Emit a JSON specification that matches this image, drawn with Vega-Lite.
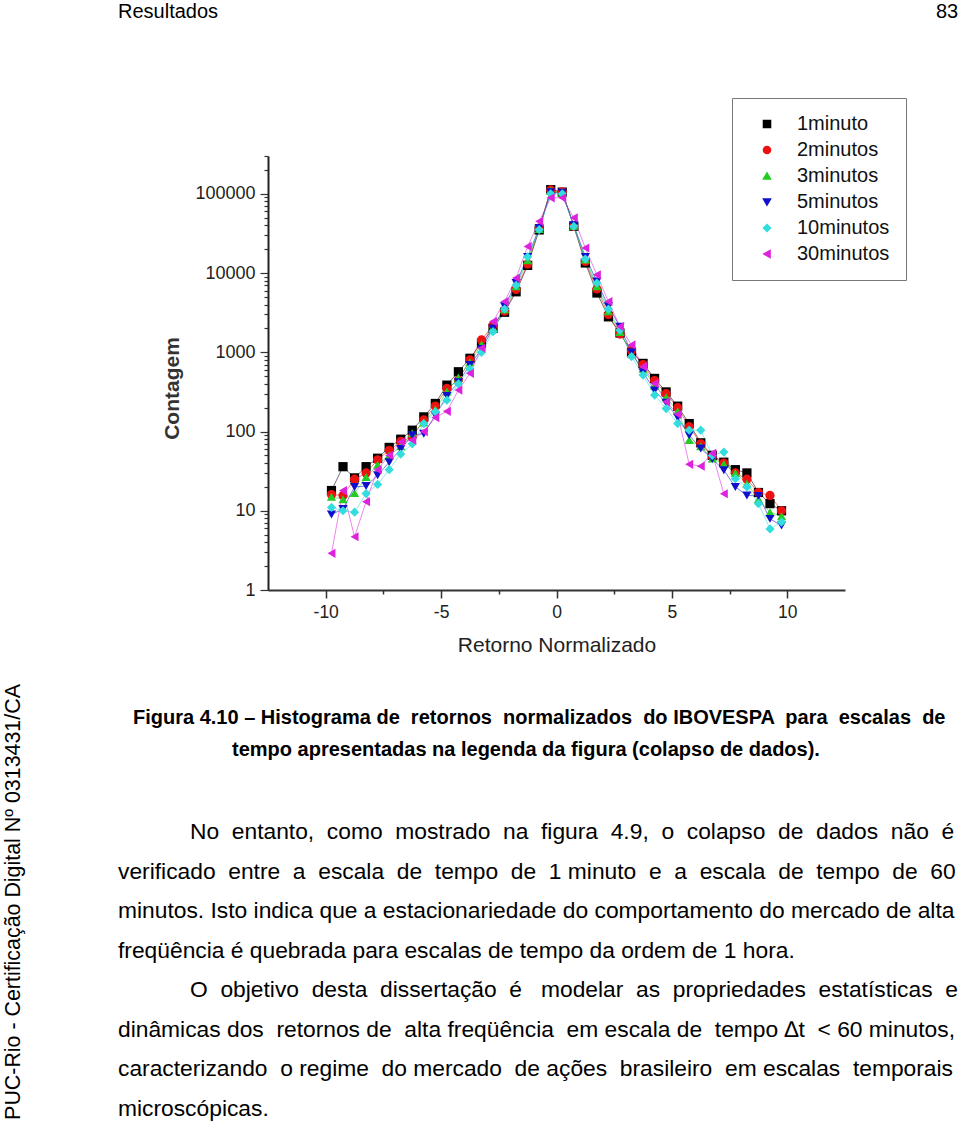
{
  "$schema": "https://vega.github.io/schema/vega-lite/v6.json",
  "width": 577,
  "height": 434,
  "autosize": {"type": "none"},
  "padding": {"left": 268, "top": 156, "right": 115, "bottom": 538},
  "background": "white",
  "config": {
    "view": {"stroke": null},
    "font": "Liberation Sans",
    "text": {"font": "Liberation Sans", "color": "#000000"}
  },
  "resolve": {"scale": {"x": "independent", "y": "independent"}},
  "layer": [
    {
      "data": {
        "values": [
          {"s":"1minuto","x":-9.75,"c":18},{"s":"1minuto","x":-9.25,"c":36},{"s":"1minuto","x":-8.75,"c":26},{"s":"1minuto","x":-8.25,"c":36},{"s":"1minuto","x":-7.75,"c":46},{"s":"1minuto","x":-7.25,"c":63},{"s":"1minuto","x":-6.75,"c":80},{"s":"1minuto","x":-6.25,"c":104},{"s":"1minuto","x":-5.75,"c":153},{"s":"1minuto","x":-5.25,"c":226},{"s":"1minuto","x":-4.75,"c":385},{"s":"1minuto","x":-4.25,"c":568},{"s":"1minuto","x":-3.75,"c":840},{"s":"1minuto","x":-3.25,"c":1300},{"s":"1minuto","x":-2.75,"c":2000},{"s":"1minuto","x":-2.25,"c":3200},{"s":"1minuto","x":-1.75,"c":5800},{"s":"1minuto","x":-1.25,"c":12500},{"s":"1minuto","x":-0.75,"c":35000},{"s":"1minuto","x":-0.25,"c":113000},
          {"s":"1minuto","x":0.25,"c":105000},{"s":"1minuto","x":0.75,"c":39000},{"s":"1minuto","x":1.25,"c":13400},{"s":"1minuto","x":1.75,"c":5600},{"s":"1minuto","x":2.25,"c":2800},{"s":"1minuto","x":2.75,"c":1750},{"s":"1minuto","x":3.25,"c":1000},{"s":"1minuto","x":3.75,"c":724},{"s":"1minuto","x":4.25,"c":468},{"s":"1minuto","x":4.75,"c":316},{"s":"1minuto","x":5.25,"c":209},{"s":"1minuto","x":5.75,"c":126},{"s":"1minuto","x":6.25,"c":72},{"s":"1minuto","x":6.75,"c":50},{"s":"1minuto","x":7.25,"c":41},{"s":"1minuto","x":7.75,"c":33},{"s":"1minuto","x":8.25,"c":30},{"s":"1minuto","x":8.75,"c":17},{"s":"1minuto","x":9.25,"c":12.3},{"s":"1minuto","x":9.75,"c":10},

          {"s":"2minutos","x":-9.75,"c":16},{"s":"2minutos","x":-9.25,"c":15.6},{"s":"2minutos","x":-8.75,"c":25},{"s":"2minutos","x":-8.25,"c":30},{"s":"2minutos","x":-7.75,"c":44},{"s":"2minutos","x":-7.25,"c":58},{"s":"2minutos","x":-6.75,"c":75},{"s":"2minutos","x":-6.25,"c":85},{"s":"2minutos","x":-5.75,"c":140},{"s":"2minutos","x":-5.25,"c":210},{"s":"2minutos","x":-4.75,"c":350},{"s":"2minutos","x":-4.25,"c":446},{"s":"2minutos","x":-3.75,"c":800},{"s":"2minutos","x":-3.25,"c":1430},{"s":"2minutos","x":-2.75,"c":2200},{"s":"2minutos","x":-2.25,"c":3300},{"s":"2minutos","x":-1.75,"c":6200},{"s":"2minutos","x":-1.25,"c":13000},{"s":"2minutos","x":-0.75,"c":37000},{"s":"2minutos","x":-0.25,"c":112000},
          {"s":"2minutos","x":0.25,"c":106000},{"s":"2minutos","x":0.75,"c":39000},{"s":"2minutos","x":1.25,"c":14000},{"s":"2minutos","x":1.75,"c":6300},{"s":"2minutos","x":2.25,"c":3000},{"s":"2minutos","x":2.75,"c":1700},{"s":"2minutos","x":3.25,"c":1050},{"s":"2minutos","x":3.75,"c":700},{"s":"2minutos","x":4.25,"c":440},{"s":"2minutos","x":4.75,"c":300},{"s":"2minutos","x":5.25,"c":200},{"s":"2minutos","x":5.75,"c":115},{"s":"2minutos","x":6.25,"c":70},{"s":"2minutos","x":6.75,"c":48},{"s":"2minutos","x":7.25,"c":40},{"s":"2minutos","x":7.75,"c":30},{"s":"2minutos","x":8.25,"c":25},{"s":"2minutos","x":8.75,"c":17},{"s":"2minutos","x":9.25,"c":15.6},{"s":"2minutos","x":9.75,"c":10},

          {"s":"3minutos","x":-9.75,"c":15},{"s":"3minutos","x":-9.25,"c":14},{"s":"3minutos","x":-8.75,"c":16.7},{"s":"3minutos","x":-8.25,"c":26.6},{"s":"3minutos","x":-7.75,"c":38},{"s":"3minutos","x":-7.25,"c":50},{"s":"3minutos","x":-6.75,"c":65},{"s":"3minutos","x":-6.25,"c":95},{"s":"3minutos","x":-5.75,"c":130},{"s":"3minutos","x":-5.25,"c":190},{"s":"3minutos","x":-4.75,"c":320},{"s":"3minutos","x":-4.25,"c":480},{"s":"3minutos","x":-3.75,"c":750},{"s":"3minutos","x":-3.25,"c":1250},{"s":"3minutos","x":-2.75,"c":2050},{"s":"3minutos","x":-2.25,"c":3500},{"s":"3minutos","x":-1.75,"c":6800},{"s":"3minutos","x":-1.25,"c":14500},{"s":"3minutos","x":-0.75,"c":36000},{"s":"3minutos","x":-0.25,"c":110000},
          {"s":"3minutos","x":0.25,"c":104000},{"s":"3minutos","x":0.75,"c":39500},{"s":"3minutos","x":1.25,"c":14800},{"s":"3minutos","x":1.75,"c":6800},{"s":"3minutos","x":2.25,"c":3300},{"s":"3minutos","x":2.75,"c":1800},{"s":"3minutos","x":3.25,"c":950},{"s":"3minutos","x":3.75,"c":620},{"s":"3minutos","x":4.25,"c":380},{"s":"3minutos","x":4.75,"c":270},{"s":"3minutos","x":5.25,"c":180},{"s":"3minutos","x":5.75,"c":78},{"s":"3minutos","x":6.25,"c":65},{"s":"3minutos","x":6.75,"c":45.5},{"s":"3minutos","x":7.25,"c":39},{"s":"3minutos","x":7.75,"c":30},{"s":"3minutos","x":8.25,"c":22},{"s":"3minutos","x":8.75,"c":14},{"s":"3minutos","x":9.25,"c":9.6},{"s":"3minutos","x":9.75,"c":8.5},

          {"s":"5minutos","x":-9.75,"c":9},{"s":"5minutos","x":-9.25,"c":10.5},{"s":"5minutos","x":-8.75,"c":20},{"s":"5minutos","x":-8.25,"c":20.5},{"s":"5minutos","x":-7.75,"c":28},{"s":"5minutos","x":-7.25,"c":41},{"s":"5minutos","x":-6.75,"c":60},{"s":"5minutos","x":-6.25,"c":90},{"s":"5minutos","x":-5.75,"c":94},{"s":"5minutos","x":-5.25,"c":160},{"s":"5minutos","x":-4.75,"c":280},{"s":"5minutos","x":-4.25,"c":420},{"s":"5minutos","x":-3.75,"c":690},{"s":"5minutos","x":-3.25,"c":1100},{"s":"5minutos","x":-2.75,"c":2000},{"s":"5minutos","x":-2.25,"c":3800},{"s":"5minutos","x":-1.75,"c":7500},{"s":"5minutos","x":-1.25,"c":16000},{"s":"5minutos","x":-0.75,"c":37000},{"s":"5minutos","x":-0.25,"c":105000},
          {"s":"5minutos","x":0.25,"c":103000},{"s":"5minutos","x":0.75,"c":40000},{"s":"5minutos","x":1.25,"c":16000},{"s":"5minutos","x":1.75,"c":7800},{"s":"5minutos","x":2.25,"c":3800},{"s":"5minutos","x":2.75,"c":2100},{"s":"5minutos","x":3.25,"c":1000},{"s":"5minutos","x":3.75,"c":560},{"s":"5minutos","x":4.25,"c":330},{"s":"5minutos","x":4.75,"c":230},{"s":"5minutos","x":5.25,"c":150},{"s":"5minutos","x":5.75,"c":90},{"s":"5minutos","x":6.25,"c":61},{"s":"5minutos","x":6.75,"c":45},{"s":"5minutos","x":7.25,"c":32.5},{"s":"5minutos","x":7.75,"c":20},{"s":"5minutos","x":8.25,"c":15.6},{"s":"5minutos","x":8.75,"c":15.4},{"s":"5minutos","x":9.25,"c":7.9},{"s":"5minutos","x":9.75,"c":6.5},

          {"s":"10minutos","x":-9.75,"c":11},{"s":"10minutos","x":-9.25,"c":10},{"s":"10minutos","x":-8.75,"c":9.6},{"s":"10minutos","x":-8.25,"c":16.5},{"s":"10minutos","x":-7.75,"c":21.5},{"s":"10minutos","x":-7.25,"c":33},{"s":"10minutos","x":-6.75,"c":52},{"s":"10minutos","x":-6.25,"c":70},{"s":"10minutos","x":-5.75,"c":126},{"s":"10minutos","x":-5.25,"c":177},{"s":"10minutos","x":-4.75,"c":249},{"s":"10minutos","x":-4.25,"c":400},{"s":"10minutos","x":-3.75,"c":620},{"s":"10minutos","x":-3.25,"c":1000},{"s":"10minutos","x":-2.75,"c":1820},{"s":"10minutos","x":-2.25,"c":3500},{"s":"10minutos","x":-1.75,"c":7000},{"s":"10minutos","x":-1.25,"c":16000},{"s":"10minutos","x":-0.75,"c":35300},{"s":"10minutos","x":-0.25,"c":100000},
          {"s":"10minutos","x":0.25,"c":100000},{"s":"10minutos","x":0.75,"c":38900},{"s":"10minutos","x":1.25,"c":15000},{"s":"10minutos","x":1.75,"c":7470},{"s":"10minutos","x":2.25,"c":3500},{"s":"10minutos","x":2.75,"c":1900},{"s":"10minutos","x":3.25,"c":880},{"s":"10minutos","x":3.75,"c":516},{"s":"10minutos","x":4.25,"c":288},{"s":"10minutos","x":4.75,"c":195},{"s":"10minutos","x":5.25,"c":126},{"s":"10minutos","x":5.75,"c":104},{"s":"10minutos","x":6.25,"c":104},{"s":"10minutos","x":6.75,"c":50},{"s":"10minutos","x":7.25,"c":55},{"s":"10minutos","x":7.75,"c":25.4},{"s":"10minutos","x":8.25,"c":20},{"s":"10minutos","x":8.75,"c":12.3},{"s":"10minutos","x":9.25,"c":5.9},{"s":"10minutos","x":9.75,"c":7.2},

          {"s":"30minutos","x":-9.75,"c":2.9},{"s":"30minutos","x":-9.25,"c":18},{"s":"30minutos","x":-8.75,"c":4.7},{"s":"30minutos","x":-8.25,"c":13},{"s":"30minutos","x":-7.75,"c":33},{"s":"30minutos","x":-7.25,"c":50},{"s":"30minutos","x":-6.75,"c":74},{"s":"30minutos","x":-6.25,"c":78},{"s":"30minutos","x":-5.75,"c":100},{"s":"30minutos","x":-5.25,"c":150},{"s":"30minutos","x":-4.75,"c":180},{"s":"30minutos","x":-4.25,"c":333},{"s":"30minutos","x":-3.75,"c":542},{"s":"30minutos","x":-3.25,"c":1130},{"s":"30minutos","x":-2.75,"c":2440},{"s":"30minutos","x":-2.25,"c":4370},{"s":"30minutos","x":-1.75,"c":8650},{"s":"30minutos","x":-1.25,"c":21700},{"s":"30minutos","x":-0.75,"c":45000},{"s":"30minutos","x":-0.25,"c":89000},
          {"s":"30minutos","x":0.25,"c":89000},{"s":"30minutos","x":0.75,"c":49700},{"s":"30minutos","x":1.25,"c":20700},{"s":"30minutos","x":1.75,"c":9500},{"s":"30minutos","x":2.25,"c":4370},{"s":"30minutos","x":2.75,"c":2110},{"s":"30minutos","x":3.25,"c":1240},{"s":"30minutos","x":3.75,"c":658},{"s":"30minutos","x":4.25,"c":405},{"s":"30minutos","x":4.75,"c":237},{"s":"30minutos","x":5.25,"c":165},{"s":"30minutos","x":5.75,"c":38.6},{"s":"30minutos","x":6.25,"c":36.5},{"s":"30minutos","x":6.75,"c":53},{"s":"30minutos","x":7.25,"c":16.4}
        ]
      },
      "encoding": {
        "x": {
          "field": "x", "type": "quantitative",
          "scale": {"domain": [-12.5, 12.5], "nice": false, "zero": false},
          "axis": {
            "values": [-10, -7.5, -5, -2.5, 0, 2.5, 5, 7.5, 10],
            "labelExpr": "abs(datum.value % 5) < 0.001 ? toString(datum.value) : ''",
            "grid": false,
            "domainColor": "#333333", "domainWidth": 2,
            "tickColor": "#333333", "tickWidth": 1.5,
            "tickSize": {"condition": {"test": "abs(datum.value % 5) < 0.001", "value": 8}, "value": 4},
            "labelFont": "Liberation Sans", "labelFontSize": 17.5, "labelColor": "#222222", "labelPadding": 5,
            "title": "Retorno Normalizado",
            "titleFont": "Liberation Sans", "titleFontSize": 21, "titleFontWeight": "normal", "titleColor": "#222222", "titlePadding": 14
          }
        },
        "y": {
          "field": "c", "type": "quantitative",
          "scale": {"type": "log", "domain": [1, 300000], "nice": false},
          "axis": {
            "values": [1,2,3,4,5,6,7,8,9,10,20,30,40,50,60,70,80,90,100,200,300,400,500,600,700,800,900,1000,2000,3000,4000,5000,6000,7000,8000,9000,10000,20000,30000,40000,50000,60000,70000,80000,90000,100000,200000,300000],
            "labelExpr": "abs(log(datum.value)/LN10 - round(log(datum.value)/LN10)) < 0.000001 ? toString(datum.value) : ''",
            "grid": false,
            "domainColor": "#222222", "domainWidth": 2,
            "tickColor": "#333333", "tickWidth": 1.2,
            "tickSize": {"condition": {"test": "abs(log(datum.value)/LN10 - round(log(datum.value)/LN10)) < 0.000001", "value": 8}, "value": 4},
            "labelFont": "Liberation Sans", "labelFontSize": 18, "labelColor": "#222222", "labelPadding": 5,
            "title": "Contagem",
            "titleFont": "Liberation Sans", "titleFontSize": 21, "titleFontWeight": "bold", "titleColor": "#333333", "titlePadding": 12,
            "titleY": 232
          }
        },
        "color": {
          "field": "s", "type": "nominal",
          "scale": {
            "domain": ["1minuto", "2minutos", "3minutos", "5minutos", "10minutos", "30minutos"],
            "range": ["#000000", "#ee1111", "#22cc22", "#1010cc", "#33dddd", "#dd22dd"]
          },
          "legend": {
            "title": null, "orient": "none", "legendX": 464, "legendY": -58,
            "strokeColor": "#777777", "fillColor": "#ffffff", "padding": 16,
            "labelFont": "Liberation Sans", "labelFontSize": 20, "labelColor": "#111111",
            "symbolSize": 50, "symbolOpacity": 1, "rowPadding": 6, "labelOffset": 20, "symbolOffset": 9
          }
        }
      },
      "layer": [
        {"mark": {"type": "line", "strokeWidth": 1, "opacity": 0.55}},
        {
          "mark": {"type": "point", "filled": true, "size": 85, "opacity": 1},
          "encoding": {
            "shape": {
              "field": "s", "type": "nominal",
              "scale": {
                "domain": ["1minuto", "2minutos", "3minutos", "5minutos", "10minutos", "30minutos"],
                "range": ["square", "circle", "triangle-up", "triangle-down", "diamond", "triangle-left"]
              },
              "legend": {
                "title": null, "orient": "none", "legendX": 464, "legendY": -58,
                "strokeColor": "#777777", "fillColor": "#ffffff", "padding": 16,
                "labelFont": "Liberation Sans", "labelFontSize": 20, "labelColor": "#111111",
                "symbolSize": 50, "symbolOpacity": 1, "rowPadding": 6, "labelOffset": 20, "symbolOffset": 9
              }
            }
          }
        }
      ]
    },
    {
      "data": {"values": [{"t": "Resultados"}, {"t": "83"}]},
      "mark": {"type": "text", "align": "left", "baseline": "middle", "fontSize": 20, "font": "Liberation Sans", "color": "#000000"},
      "encoding": {
        "x": {"field": "t", "type": "nominal", "scale": {"type": "point", "domain": ["Resultados", "83"], "range": [-150, 668], "padding": 0}, "axis": null},
        "y": {"field": "t", "type": "nominal", "scale": {"type": "point", "domain": ["Resultados", "83"], "range": [-144, -144], "padding": 0}, "axis": null},
        "text": {"field": "t"}
      }
    },
    {
      "data": {"values": [
        {"line": 1, "t": "Figura 4.10 – Histograma de \u00a0retornos \u00a0normalizados \u00a0do IBOVESPA \u00a0para \u00a0escalas \u00a0de"},
        {"line": 2, "t": "tempo apresentadas na legenda da figura (colapso de dados)."}
      ]},
      "mark": {"type": "text", "align": "left", "baseline": "middle", "fontSize": 20, "fontWeight": "bold", "font": "Liberation Sans", "color": "#000000"},
      "encoding": {
        "x": {"field": "line", "type": "ordinal", "scale": {"type": "point", "domain": [1, 2], "range": [-135, -36], "padding": 0}, "axis": null},
        "y": {"field": "line", "type": "quantitative", "scale": {"domain": [1, 2], "range": [562, 594], "nice": false, "zero": false}, "axis": null},
        "text": {"field": "t"}
      }
    },
    {
      "data": {"values": [
        {"line": 1, "start": "paragraph", "t": "No \u00a0entanto, \u00a0como \u00a0mostrado \u00a0na \u00a0figura \u00a04.9, \u00a0o \u00a0colapso \u00a0de \u00a0dados \u00a0não \u00a0é"},
        {"line": 2, "start": "continuation", "t": "verificado \u00a0entre \u00a0a \u00a0escala \u00a0de \u00a0tempo \u00a0de \u00a01 minuto \u00a0e \u00a0a \u00a0escala \u00a0de \u00a0tempo \u00a0de \u00a060"},
        {"line": 3, "start": "continuation", "t": "minutos. Isto indica que a estacionariedade do comportamento do mercado de alta"},
        {"line": 4, "start": "continuation", "t": "freqüência é quebrada para escalas de tempo da ordem de 1 hora."},
        {"line": 5, "start": "paragraph", "t": "O \u00a0objetivo \u00a0desta \u00a0dissertação \u00a0é \u00a0\u00a0modelar \u00a0as \u00a0propriedades \u00a0estatísticas \u00a0e"},
        {"line": 6, "start": "continuation", "t": "dinâmicas dos \u00a0retornos de \u00a0alta freqüência \u00a0em escala de \u00a0tempo ∆t \u00a0< 60 minutos,"},
        {"line": 7, "start": "continuation", "t": "caracterizando \u00a0o regime \u00a0do mercado \u00a0de ações \u00a0brasileiro \u00a0em escalas \u00a0temporais"},
        {"line": 8, "start": "continuation", "t": "microscópicas."}
      ]},
      "mark": {"type": "text", "align": "left", "baseline": "middle", "fontSize": 22.8, "font": "Liberation Sans", "color": "#000000"},
      "encoding": {
        "x": {"field": "start", "type": "nominal", "scale": {"type": "point", "domain": ["continuation", "paragraph"], "range": [-150, -78], "padding": 0}, "axis": null},
        "y": {"field": "line", "type": "quantitative", "scale": {"domain": [1, 8], "range": [676, 952.5], "nice": false, "zero": false}, "axis": null},
        "text": {"field": "t"}
      }
    },
    {
      "data": {"values": [{"t": "PUC-Rio - Certificação Digital Nº 0313431/CA"}]},
      "mark": {"type": "text", "align": "center", "baseline": "middle", "angle": 270, "fontSize": 21.4, "font": "Liberation Sans", "color": "#000000"},
      "encoding": {
        "x": {"field": "t", "type": "nominal", "scale": {"type": "point", "range": [-254, -254], "padding": 0}, "axis": null},
        "y": {"field": "t", "type": "nominal", "scale": {"type": "point", "range": [746, 746], "padding": 0}, "axis": null},
        "text": {"field": "t"}
      }
    }
  ]
}
